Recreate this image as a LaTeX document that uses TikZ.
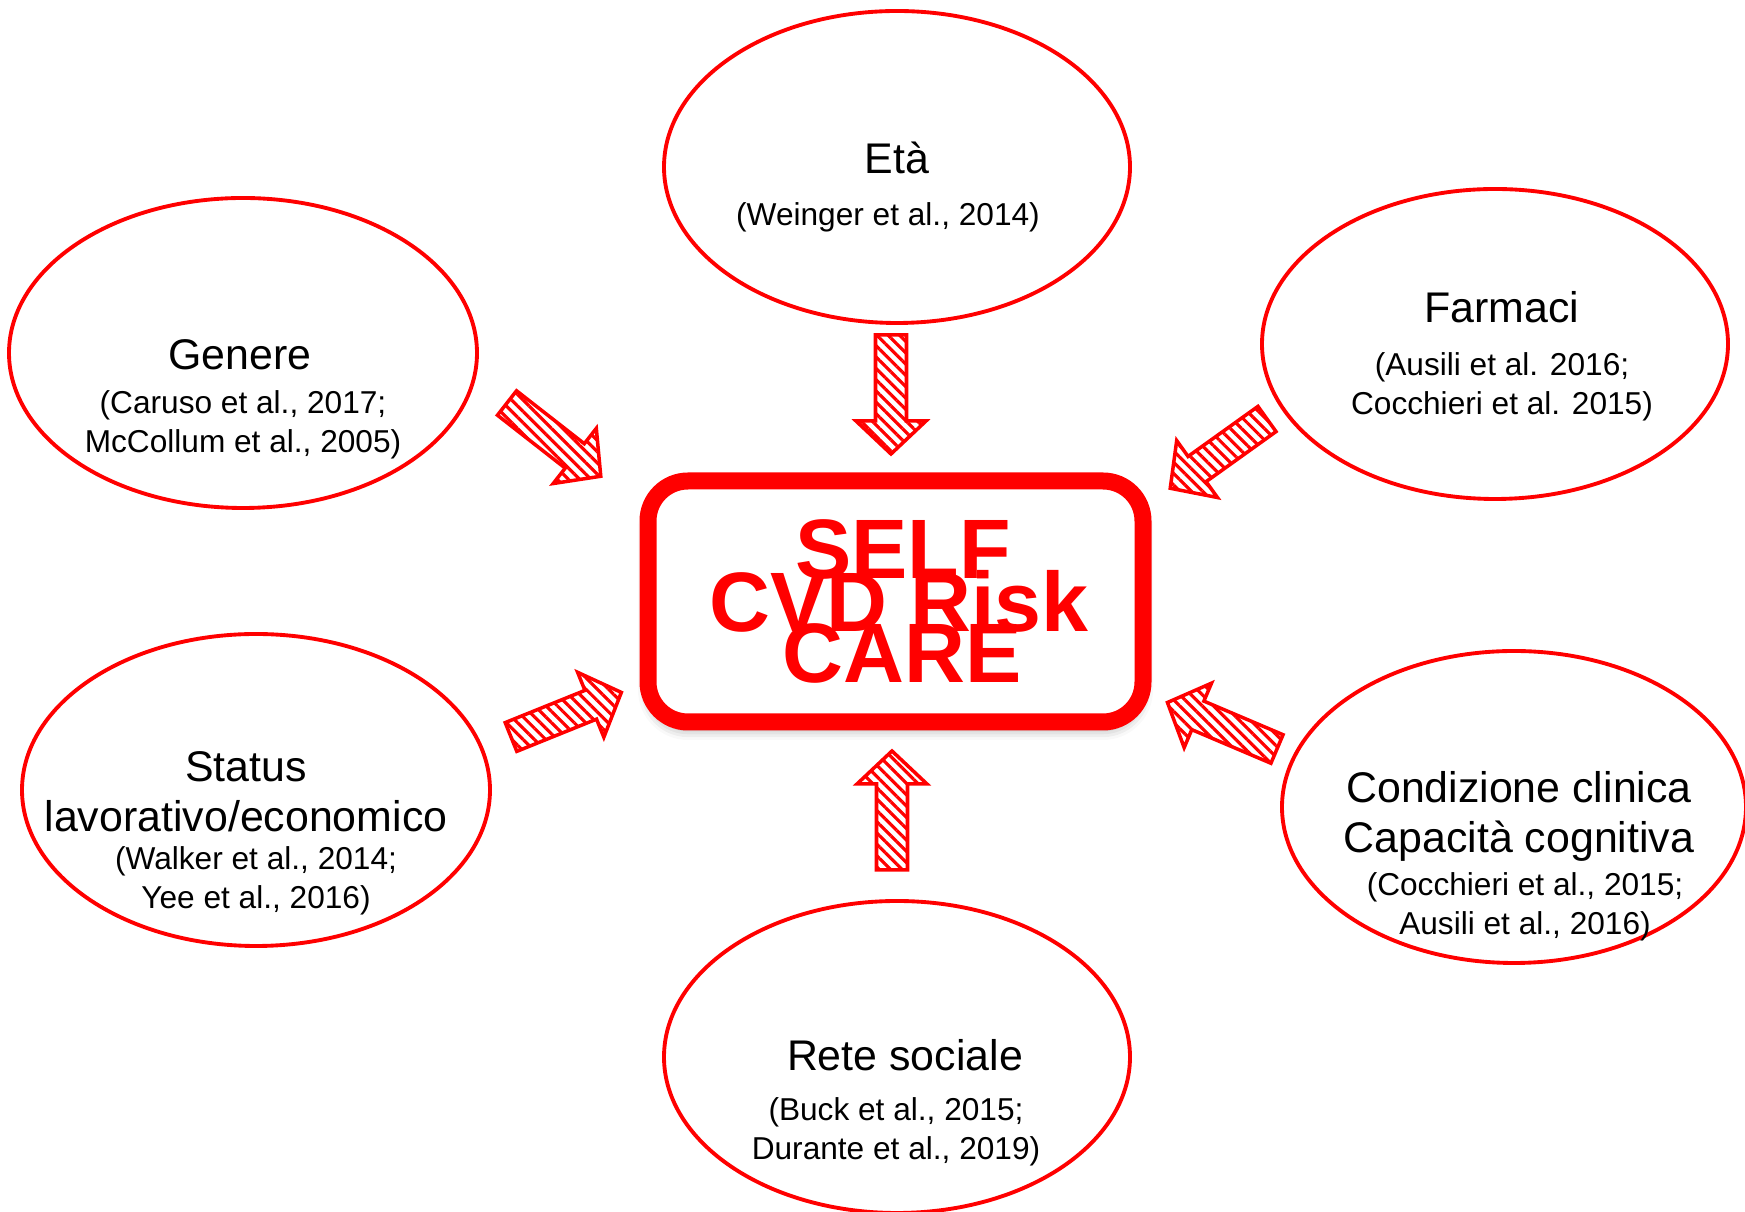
\documentclass[tikz,border=0pt]{standalone}
\usepackage{fontspec}
\setmainfont{Liberation Sans}
\usetikzlibrary{shapes.geometric, patterns.meta, shadows.blur}
\tikzset{
    factor/.style = {
        draw=red,
        line width=1.1pt,
        ellipse,
        inner sep=0pt,
        minimum width=4.66cm,
        minimum height=3.12cm
    },
    heading/.style = {
        anchor=base,
        align=center,
        inner sep=0pt,
        font=\fontsize{12.2}{14.5}\selectfont
    },
    cite/.style = {
        anchor=base,
        align=center,
        inner sep=0pt,
        font=\fontsize{9}{11.1}\selectfont
    },
    core/.style = {
        draw=red,
        fill=white,
        line width=0.17cm,
        rounded corners=0.4cm,
        minimum width=4.95cm,
        minimum height=2.41cm,
        blur shadow={shadow xshift=0pt, shadow yshift=-0.08cm,
            shadow blur radius=0.1cm, shadow opacity=35}
    },
    big/.style = {
        anchor=base,
        inner sep=0pt,
        text=red,
        font=\fontsize{24}{24}\selectfont\bfseries
    },
    pics/hatcharrow/.style = {
        code = {
            \draw[red, line width=1pt,
                pattern={Lines[angle=-45, distance=0.08cm, line width=0.9pt]},
                pattern color=red]
                (0,-0.155) -- (0.86,-0.155) -- (0.86,-0.35) -- (1.19,0)
                -- (0.86,0.35) -- (0.86,0.155) -- (0,0.155) -- cycle;
        }
    }
}

\begin{document}
\begin{tikzpicture}
    \useasboundingbox (0,0) rectangle (17.45,12.12);

    % factors
    \node[factor] (eta) at (8.97,10.45) {};
    \node[factor, minimum width=4.68cm, minimum height=3.10cm] (genere) at (2.43,8.59) {};
    \node[factor, minimum height=3.10cm] (farmaci) at (14.95,8.68) {};
    \node[factor, minimum width=4.68cm] (status) at (2.56,4.22) {};
    \node[factor, minimum width=4.64cm] (clinica) at (15.14,4.05) {};
    \node[factor] (rete) at (8.97,1.55) {};

    % central box
    \node[core] (selfcare) at (8.955,6.105) {};

    % arrows
    \foreach \x/\y/\a in {8.91/8.77/-90, 5.07/8.09/-38, 12.67/7.93/215.6,
                          5.11/4.75/22, 12.77/4.63/157, 8.92/3.42/90}{
        \pic[rotate=\a] at (\x,\y) {hatcharrow};
    }

    % texts (base of the last line)
    \node[big] (self) at (9.03,6.33) {SELF};
    \node[big] (cvd) at (8.99,5.80) {CVD Risk};
    \node[big] (care) at (9.02,5.29) {CARE};

    \node[heading] (etat) at (8.97,10.38) {Età};
    \node[cite] (etac) at (8.88,9.86) {(Weinger et al., 2014)};

    \node[heading] (generet) at (2.40,8.42) {Genere};
    \node[cite] (generec) at (2.43,7.59) {(Caruso et al., 2017;\\McCollum et al., 2005)};

    \node[heading] (farmacit) at (15.02,8.89) {Farmaci};
    \node[cite] (farmacic) at (15.02,7.97) {(Ausili et al. 2016;\\Cocchieri et al. 2015)};

    \node[heading] (statust) at (2.46,3.80) {Status\\lavorativo/economico};
    \node[cite] (statusc) at (2.56,3.03) {(Walker et al., 2014;\\Yee et al., 2016)};

    \node[heading] (clinicat) at (15.19,3.59) {Condizione clinica\\Capacità cognitiva};
    \node[cite] (clinicac) at (15.25,2.77) {(Cocchieri et al., 2015;\\Ausili et al., 2016)};

    \node[heading] (retet) at (9.05,1.41) {Rete sociale};
    \node[cite] (retec) at (8.96,0.52) {(Buck et al., 2015;\\Durante et al., 2019)};
\end{tikzpicture}
\end{document}
